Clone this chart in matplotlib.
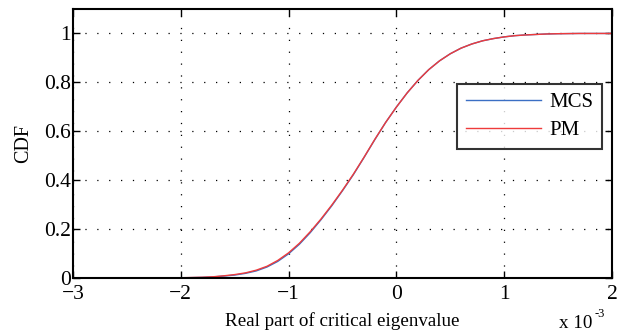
import matplotlib
matplotlib.use("Agg")
import matplotlib.pyplot as plt
import numpy as np

# Real part of critical eigenvalue (x 1e-3)
x_vals = [-3.0, -2.9, -2.8, -2.7, -2.6, -2.5, -2.4, -2.3, -2.2, -2.1,
          -2.0, -1.9, -1.8, -1.7, -1.6, -1.5, -1.4, -1.3, -1.2, -1.1,
          -1.0, -0.9, -0.8, -0.7, -0.6, -0.5, -0.4, -0.3, -0.2, -0.1,
          0.0, 0.1, 0.2, 0.3, 0.4, 0.5, 0.6, 0.7, 0.8, 0.9,
          1.0, 1.1, 1.2, 1.3, 1.4, 1.5, 1.6, 1.7, 1.8, 1.9, 2.0]

cdf_pm = [0, 0, 0, 0, 0, 0, 0, 0, 0, 0.0003,
          0.001, 0.002, 0.003, 0.005, 0.009, 0.014, 0.021, 0.032, 0.048, 0.072,
          0.103, 0.142, 0.189, 0.241, 0.298, 0.359, 0.424, 0.494, 0.567, 0.636,
          0.699, 0.757, 0.808, 0.852, 0.888, 0.917, 0.940, 0.957, 0.970, 0.979,
          0.986, 0.991, 0.994, 0.996, 0.998, 0.999, 0.9995, 1.0, 1.0, 1.0, 1.0]

cdf_mcs = [0, 0, 0, 0, 0, 0, 0, 0, 0, 0.0002,
           0.0008, 0.0015, 0.0025, 0.0045, 0.008, 0.012, 0.019, 0.029, 0.045, 0.068,
           0.099, 0.138, 0.185, 0.238, 0.295, 0.357, 0.422, 0.493, 0.566, 0.636,
           0.699, 0.757, 0.808, 0.852, 0.888, 0.917, 0.940, 0.957, 0.970, 0.979,
           0.986, 0.991, 0.994, 0.996, 0.998, 0.999, 0.9995, 1.0, 1.0, 1.0, 1.0]

series_names = ["MCS", "PM"]
x_ticks = [-3, -2, -1, 0, 1, 2]
y_ticks = [0, 0.2, 0.4, 0.6, 0.8, 1]
y_tick_labels = ["0", "0.2", "0.4", "0.6", "0.8", "1"]

plt.rcParams['font.family'] = ['Liberation Serif', 'DejaVu Serif']

fig = plt.figure(figsize=(6.21, 3.35), dpi=100)
ax = fig.add_axes([73/621, 1 - 278/335, (612-73)/621, (278-9)/335])

ax.plot(x_vals, cdf_mcs, color='#3b6fc4', lw=1.0, label=series_names[0])
ax.plot(x_vals, cdf_pm, color='#ee3b3b', lw=1.0, label=series_names[1])

ax.set_xlim(-3, 2)
ax.set_ylim(0, 1.1)
ax.set_xticks(x_ticks)
ax.set_xticklabels(["\u2212" + str(-t) if t < 0 else str(t) for t in x_ticks])
ax.set_yticks(y_ticks)
ax.set_yticklabels(y_tick_labels)
ax.grid(True, color='black', linestyle=(0, (1, 8.5)), linewidth=0.9)
ax.tick_params(direction='in', top=True, right=True, length=5, width=1.0,
               labelsize=15.5)
ax.tick_params(axis='x', pad=5)
ax.tick_params(axis='y', pad=1.5)
for s in ax.spines.values():
    s.set_linewidth(1.5)

ax.set_ylabel("CDF", fontsize=14.5)
ax.yaxis.set_label_coords((33 - 73) / 539, 0.5)
ax.set_xlabel("Real part of critical eigenvalue", fontsize=13.7)
ax.xaxis.set_label_coords(0.5, (278 - 312) / 269)

fig.text(559/621, 1 - 328/335, "x 10", fontsize=13.7, ha='left', va='baseline')
fig.text(595/621, 1 - 317/335, "-3", fontsize=9, ha='left', va='baseline')

leg = ax.legend(loc='upper left', bbox_to_anchor=((457-73)/539, (278-84)/269),
                borderaxespad=0, frameon=True, fancybox=False, fontsize=15,
                handlelength=3.6, handletextpad=0.4, borderpad=0.42,
                labelspacing=0.38)
leg.get_frame().set_edgecolor('black')
leg.get_frame().set_linewidth(1.5)

fig.savefig("out.png", dpi=100)
